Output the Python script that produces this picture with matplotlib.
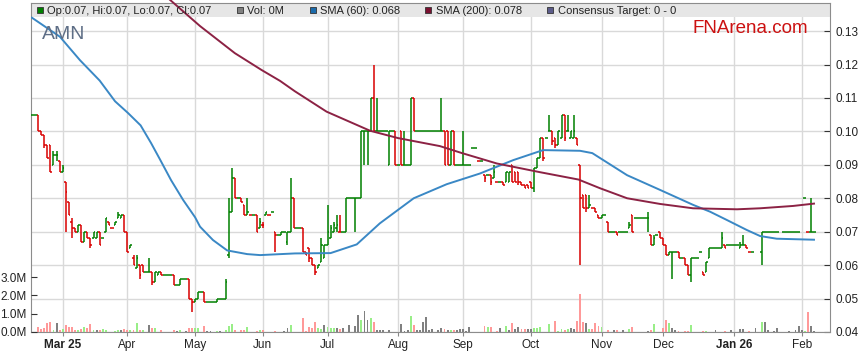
import numpy as np
import pandas as pd
import matplotlib
matplotlib.use("Agg")
import matplotlib.pyplot as plt
from matplotlib.collections import LineCollection
from matplotlib.patches import Rectangle

plt.rcParams['font.family'] = ['Liberation Sans', 'DejaVu Sans']

# one entry per weekday, prices in thousandths of a dollar (None = no bar)
first_day = '2025-02-17'
last_day = '2026-02-06'
N = None

opens = [
    105, 105, 105, 100, 99, 96, 96, 90, 93, 91,
    88, 85, 79, 73, 71, 70, 72, 67, 70, 68,
    68, 68, 70, 68, 70, 73, 71, 72, 74, 74,
    75, 70, 65, 62, 59, 60, 60, 58, 58, 58,
    55, 57, 58, 57, 57, 57, 57, 54, 54, 56,
    56, 56, 50, 49, 50, 52, 52, 49, 49, 49,
    49, 50, 50, 50, 63, 76, 86, 80, 80, 78,
    75, 75, 75, 75, 71, 72, 75, 75, 76, 70,
    69, 69, 70, 67, 70, 80, 71, 71, 71, 64,
    65, 62, 60, 59, 61, 62, 66, 68, 70, 71,
    70, 70, 70, 80, 80, 80, 80, 80, 100, 100,
    100, 110, 100, 100, 100, 100, 90, 100, 100, 90,
    100, 90, 90, 90, 110, 100, 100, 100, 100, 100,
    100, 100, 100, 100, 100, 100, 90, 100, 90, 90,
    90, 90, 90, 95, 95, 91, 91, 87, 87, 87,
    86, 85, 85, 85, 85, 85, 90, 88, 88, 85,
    84, 84, 85, 83, 89, 92, 98, 98, 100, 100,
    98, 96, 98, 105, 100, 98, 98, 98, 90, 81,
    81, 77, 77, 77, 75, 74, 75, 73, 70, 70,
    70, 70, 70, 70, 71, 75, 74, 74, 74, 74,
    74, 69, 66, 69, 70, 68, 66, 63, 64, 64,
    64, 62, 62, 60, 57, 62, 62, 64, 58, 58,
    62, 65, 65, 65, 65, 66, 66, 66, 66, 66,
    65, 66, 66, 64, 64, N, N, 64, 70, 70,
    70, 70, 70, N, 70, 70, 70, 70, 70, 70,
    N, 80, 70, 70, 70,
]
highs = [
    105, 105, 105, 100, 99, 96, 96, 94, 94, 91,
    90, 85, 79, 74, 71, 72, 72, 70, 70, 68,
    70, 70, 70, 68, 74, 73, 71, 73, 76, 75,
    75, 70, 66, 63, 63, 60, 60, 58, 62, 58,
    58, 58, 58, 57, 57, 57, 57, 54, 56, 56,
    56, 56, 50, 50, 52, 52, 52, 49, 49, 49,
    50, 50, 50, 56, 80, 89, 86, 80, 80, 78,
    80, 75, 75, 75, 74, 73, 76, 75, 76, 70,
    69, 70, 70, 70, 86, 80, 71, 71, 71, 64,
    65, 62, 60, 60, 68, 66, 78, 72, 73, 75,
    75, 70, 80, 80, 80, 80, 80, 100, 100, 100,
    110, 120, 110, 100, 100, 100, 100, 100, 100, 90,
    100, 100, 90, 110, 110, 100, 100, 100, 100, 100,
    100, 100, 100, 110, 100, 100, 100, 100, 90, 90,
    100, 90, 90, 95, 95, 91, 91, 87, 87, 87,
    90, 85, 85, 85, 88, 88, 90, 88, 88, 85,
    84, 84, 85, 89, 92, 98, 98, 98, 105, 100,
    98, 100, 105, 105, 105, 100, 105, 98, 90, 81,
    81, 81, 77, 77, 75, 75, 75, 73, 70, 70,
    70, 70, 70, 70, 73, 75, 74, 74, 74, 74,
    76, 69, 69, 69, 70, 68, 66, 64, 64, 64,
    64, 62, 62, 60, 62, 62, 62, 64, 58, 61,
    65, 65, 65, 65, 70, 66, 66, 66, 66, 66,
    67, 69, 66, 64, 64, N, N, 70, 70, 70,
    70, 70, 70, N, 70, 70, 70, 70, 70, 70,
    N, 80, 70, 80, 70,
]
lows = [
    105, 105, 100, 99, 95, 92, 88, 90, 91, 88,
    88, 70, 75, 68, 70, 70, 67, 67, 68, 65,
    68, 68, 66, 68, 70, 72, 71, 72, 74, 74,
    70, 64, 65, 60, 59, 56, 58, 58, 58, 54,
    55, 57, 57, 57, 57, 57, 54, 54, 54, 56,
    56, 50, 46, 49, 50, 52, 49, 49, 49, 49,
    49, 50, 50, 50, 62, 76, 80, 80, 79, 75,
    75, 75, 75, 70, 71, 71, 75, 75, 76, 64,
    69, 69, 70, 66, 70, 71, 71, 71, 64, 63,
    61, 60, 57, 59, 61, 62, 66, 68, 70, 70,
    70, 70, 70, 80, 80, 70, 80, 80, 90, 90,
    100, 100, 100, 100, 100, 100, 90, 100, 90, 90,
    90, 90, 90, 90, 100, 100, 100, 100, 100, 100,
    100, 100, 100, 100, 90, 90, 90, 90, 90, 90,
    90, 90, 90, 95, 95, 91, 91, 85, 87, 84,
    86, 85, 85, 84, 85, 85, 85, 85, 84, 84,
    83, 83, 83, 82, 89, 92, 91, 98, 100, 96,
    95, 96, 98, 97, 100, 98, 98, 96, 60, 77,
    76, 77, 77, 76, 74, 74, 75, 70, 70, 70,
    69, 70, 70, 70, 71, 70, 74, 74, 74, 74,
    70, 66, 66, 69, 68, 66, 63, 63, 56, 64,
    62, 62, 60, 57, 55, 62, 62, 64, 57, 58,
    62, 65, 65, 65, 65, 65, 66, 66, 66, 66,
    65, 66, 65, 64, 64, N, N, 60, 70, 70,
    70, 70, 70, N, 70, 70, 70, 70, 70, 70,
    N, 80, 70, 70, 70,
]
closes = [
    105, 105, 100, 99, 96, 92, 88, 93, 93, 88,
    89, 82, 75, 71, 70, 72, 67, 70, 68, 66,
    70, 70, 66, 68, 74, 72, 71, 73, 75, 75,
    70, 64, 66, 60, 62, 57, 58, 58, 58, 55,
    58, 58, 57, 57, 57, 57, 54, 54, 56, 56,
    56, 50, 49, 50, 52, 52, 49, 49, 49, 49,
    50, 50, 50, 55, 76, 86, 80, 80, 79, 75,
    76, 75, 75, 70, 73, 72, 76, 75, 76, 69,
    69, 70, 70, 70, 80, 71, 71, 71, 64, 63,
    62, 60, 58, 60, 66, 66, 70, 71, 72, 72,
    70, 70, 80, 80, 80, 80, 80, 100, 100, 100,
    110, 100, 100, 100, 100, 100, 100, 100, 90, 90,
    90, 90, 90, 110, 100, 100, 100, 100, 100, 100,
    100, 100, 100, 100, 90, 90, 100, 90, 90, 90,
    90, 90, 90, 95, 95, 91, 91, 86, 87, 85,
    88, 85, 85, 84, 88, 88, 85, 85, 85, 84,
    83, 83, 83, 89, 92, 98, 92, 98, 100, 97,
    96, 100, 105, 98, 100, 100, 100, 96, 80, 77,
    77, 78, 77, 76, 74, 75, 75, 70, 70, 70,
    69, 70, 70, 70, 72, 70, 74, 74, 74, 74,
    74, 66, 68, 69, 68, 66, 63, 64, 64, 64,
    62, 62, 60, 57, 62, 62, 62, 64, 57, 61,
    65, 65, 65, 65, 68, 65, 66, 66, 66, 66,
    66, 66, 65, 64, 64, N, N, 70, 70, 70,
    70, 70, 70, N, 70, 70, 70, 70, 70, 70,
    N, 80, 70, 70, 70,
]
# volume in millions of shares
vols = [
    0, 0, 0.29, 0.16, 0.20, 0.47, 0.52, 0.09, 0.50, 0.13,
    0.14, 0.40, 0.27, 0.29, 0.09, 0.11, 0.16, 0.29, 0.22, 0.41,
    0.09, 0.13, 0.13, 0.16, 0.13, 0, 0, 0.07, 0.09, 0.11,
    0.18, 0.13, 0.13, 0.13, 0.47, 0.09, 0.09, 0, 0.40, 0.20,
    0.20, 0, 0.13, 0, 0, 0, 0.13, 0.07, 0.13, 0,
    0.07, 0.20, 0.20, 0.23, 0.23, 0, 0.34, 0.07, 0.05, 0,
    0.07, 0.07, 0, 0.13, 0.34, 0.41, 0.13, 0, 0.13, 0.09,
    0.29, 0, 0, 0.05, 0.11, 0.09, 0, 0, 0, 0.05,
    0, 0, 0.05, 0.20, 0.36, 0, 0, 0, 0.79, 0.07,
    0.27, 0.22, 0.56, 0.22, 0.16, 0.36, 0.25, 0.22, 0.23, 0.22,
    0.18, 0.22, 0, 0.36, 0, 0.31, 0.95, 0.63, 1.17, 0.68,
    0.79, 0.52, 0.13, 0.13, 0.13, 0, 0.13, 0, 0, 0,
    0.41, 0.07, 0.11, 0.85, 0.36, 0.13, 0.13, 0.54, 0.83, 0.13,
    0.18, 0, 0.13, 0.23, 0.16, 0.13, 0.11, 0.11, 0.13, 0.16,
    0.18, 0.07, 0.27, 0, 0, 0, 0, 0.32, 0.29, 0.29,
    0, 0.07, 0.22, 0, 0.34, 0.13, 0.47, 0.16, 0.25, 0.18,
    0.18, 0.16, 0.16, 0.23, 0.20, 0.29, 0, 0, 0.41, 0,
    0.61, 0.07, 0.18, 0.13, 0.16, 0.22, 0.14, 0.61, 2.07, 0.56,
    0.47, 0.18, 0.18, 0.50, 0.34, 0.29, 0, 0.13, 0, 0.09,
    0.13, 0, 0.11, 0, 0.16, 0.29, 0, 0, 0, 0,
    0.05, 0.13, 0.45, 0, 0, 0.23, 0.67, 0.47, 0.20, 0.13,
    0.07, 0, 0.07, 0.07, 0.40, 0, 0, 0, 0.07, 0.07,
    0, 0, 0.13, 0, 0, 0.07, 0, 0.13, 0, 0,
    0.18, 0.18, 0, 0.07, 0, 0.20, 0, 0.52, 0.52, 0.11,
    0, 0.07, 0.23, 0, 0, 0, 0.07, 0, 0.13, 0.34,
    0.13, 0.07, 1.10, 0.34, 0.07,
]

# moving averages (weekday index, price)
sma60_days = [0, 9.1, 15.6, 22, 27, 31.2, 35.3, 38.7, 41.6, 45.2, 49.1, 53,
              54.6, 58.8, 63.4, 69.9, 74.1, 85.4, 97, 105.5, 113, 124, 134.7,
              145.5, 156.3, 166, 178, 182, 193.3, 204, 214.8, 220.2, 225.7,
              232.2, 236.5, 241.9, 254]
sma60 = [0.134, 0.1283, 0.1213, 0.1152, 0.109, 0.1055, 0.1018, 0.0965, 0.0916,
         0.0854, 0.0795, 0.0743, 0.0715, 0.0675, 0.0644, 0.0633, 0.063, 0.0635,
         0.0636, 0.0662, 0.0725, 0.080, 0.0842, 0.0874, 0.0914, 0.0944, 0.0942,
         0.0935, 0.0869, 0.0825, 0.078, 0.076, 0.0735, 0.0705, 0.0687, 0.0679,
         0.0676]
sma200_days = [44.9, 54.6, 65.9, 74.7, 80.6, 85.4, 95.7, 109.8, 118.9, 132.5,
               139.7, 151, 165, 177.5, 184.5, 193.3, 204, 214.7, 229, 236.5,
               247.2, 254]
sma200 = [0.1393, 0.1315, 0.1234, 0.1183, 0.1151, 0.1120, 0.1059, 0.1002, 0.098,
          0.0956, 0.0935, 0.0904, 0.0878, 0.0856, 0.083, 0.080, 0.0783, 0.077,
          0.0767, 0.077, 0.0777, 0.0784]

month_labels = ['Mar 25', 'Apr', 'May', 'Jun', 'Jul', 'Aug', 'Sep', 'Oct',
                'Nov', 'Dec', 'Jan 26', 'Feb']
price_ticks = [0.04, 0.05, 0.06, 0.07, 0.08, 0.09, 0.10, 0.11, 0.12, 0.13]
vol_ticks = [0, 1, 2, 3]

legend_entries = ['Op:0.07, Hi:0.07, Lo:0.07, Cl:0.07', 'Vol: 0M', 'SMA (60): 0.068',
                  'SMA (200): 0.078', 'Consensus Target: 0 - 0']

GREEN = '#008000'
RED = '#d90000'
BLUE = '#3a88c5'
MAROON = '#8c2244'

days = pd.bdate_range(first_day, last_day)
x = np.arange(len(days))
o = np.array(opens, dtype=float) / 1000
h = np.array(highs, dtype=float) / 1000
l = np.array(lows, dtype=float) / 1000
c = np.array(closes, dtype=float) / 1000
prev = pd.Series(c).ffill().shift(1).bfill().values

fig = plt.figure(figsize=(8.59, 3.63), dpi=100)
ax = fig.add_axes([31 / 859, 31 / 363, 799 / 859, 329 / 363])
ax_v = ax.twinx()

# volume bars
vcols = []
for i in x:
    if np.isnan(c[i]) or c[i] == prev[i]:
        vcols.append('#808080')
    elif c[i] > prev[i]:
        vcols.append('#99ee88')
    else:
        vcols.append('#ff9999')
ax_v.bar(x, vols, width=0.62, color=vcols, linewidth=0)
ax_v.set_ylim(0, 17.95)
ax_v.yaxis.tick_left()
ax_v.set_yticks(vol_ticks)
ax_v.set_yticklabels([f'{v:.1f}M' for v in vol_ticks])
ax_v.tick_params(axis='y', direction='in', length=4, color='#333333',
                 labelsize=8.5, labelcolor='#222222', pad=3)
for s in ax_v.spines.values():
    s.set_visible(False)

# price bars
segs, cols = [], []
for i in x:
    if np.isnan(c[i]):
        continue
    down = c[i] < o[i] or (c[i] == o[i] and c[i] < prev[i])
    col = RED if down else GREEN
    if h[i] > l[i]:
        segs.append([(i, l[i]), (i, h[i])])
        cols.append(col)
    segs.append([(i - 0.5, o[i]), (i, o[i])])
    cols.append(col)
    segs.append([(i, c[i]), (i + 0.5, c[i])])
    cols.append(col)
ax.add_collection(LineCollection(segs, colors=cols, linewidths=1.1, zorder=3))

ax.plot(sma60_days, sma60, color=BLUE, lw=1.4, zorder=4)
ax.plot(sma200_days, sma200, color=MAROON, lw=1.4, zorder=4, clip_on=False)

ax.set_xlim(-0.3, 259.2)
ax.set_ylim(0.04, 0.1384)
ax.yaxis.tick_right()
ax.set_yticks(price_ticks)
ax.set_yticklabels([f'{t:.2f}' for t in price_ticks])
ax.tick_params(axis='y', direction='in', length=4, color='#333333',
               labelsize=8.5, labelcolor='#222222', pad=4)

month_start = [i for i in range(1, len(days)) if days[i].month != days[i - 1].month]
ax.set_xticks(month_start)
ax.set_xticklabels(month_labels)
ax.tick_params(axis='x', direction='out', length=3, color='#888888',
               labelsize=8.5, labelcolor='#222222', pad=2)
for lab in ax.get_xticklabels():
    if ' ' in lab.get_text():
        lab.set_fontweight('bold')

ax.grid(True, color='#d9d9d9', lw=1)
ax.set_axisbelow(True)
for s in ax.spines.values():
    s.set_color('#8c8c8c')

# header strip with legend
def fx(px):
    return (px - 31) / 799


def fy(py):
    return (332 - py) / 329


ax.add_patch(Rectangle((0, fy(17)), 1, 14 / 329, transform=ax.transAxes,
                       facecolor='#e6e6e6', edgecolor='none', zorder=2))
swatch_cols = [GREEN, '#808080', '#1a6aaa', '#7a1030', '#5c5c8a']
swatch_px = [37, 237, 310, 425, 547]
text_px = [47, 247, 320, 436, 558]
for label, col, sx, tx in zip(legend_entries, swatch_cols, swatch_px, text_px):
    ax.add_patch(Rectangle((fx(sx), fy(13)), 5.5 / 799, 5.5 / 329, transform=ax.transAxes,
                           facecolor=col, edgecolor='#333333', lw=0.6, zorder=5))
    ax.text(fx(tx), fy(10.5), label, transform=ax.transAxes, fontsize=8,
            color='#222222', va='center', ha='left', zorder=5)

ax.text(fx(42), fy(39), 'AMN', transform=ax.transAxes, fontsize=14,
        color='#5e6e86', va='baseline', ha='left', zorder=5)
ax.text(fx(808), fy(33), 'FNArena.com', transform=ax.transAxes, fontsize=13.5,
        color='#cc1111', va='baseline', ha='right', zorder=5)

fig.savefig('out.png', dpi=100)
